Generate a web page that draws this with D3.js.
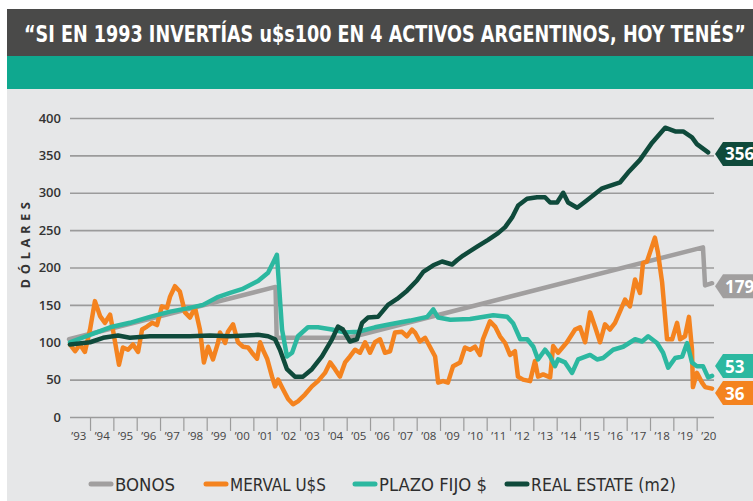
<!DOCTYPE html>
<html>
<head>
<meta charset="utf-8">
<script src="https://cdn.jsdelivr.net/npm/d3@7"></script>
<style>
  html, body { margin: 0; padding: 0; background: #fff; }
  svg { display: block; }
</style>
</head>
<body>
<svg width="753" height="501"></svg>
<script>
// values, [year, dollars]
var bonos = [[1993.1, 104], [2001.95, 174], [2002.0, 106], [2005.1, 106], [2020.27, 227], [2020.36, 176], [2020.66, 179]];

var merval = [[1993.14, 97], [1993.36, 88], [1993.57, 97], [1993.78, 87], [1994.0, 117], [1994.21, 155], [1994.43, 135],
  [1994.64, 126], [1994.86, 137], [1994.98, 117], [1995.24, 70], [1995.41, 93], [1995.63, 90], [1995.84, 97], [1996.06, 87],
  [1996.23, 117], [1996.44, 121], [1996.66, 126], [1996.87, 123], [1997.08, 148], [1997.3, 146], [1997.43, 161], [1997.64, 175],
  [1997.85, 168], [1998.07, 140], [1998.28, 133], [1998.5, 146], [1998.71, 117], [1998.88, 73], [1999.06, 94], [1999.27, 77],
  [1999.49, 100], [1999.57, 113], [1999.79, 99], [1999.91, 114], [2000.13, 124], [2000.34, 100], [2000.56, 94], [2000.77, 93],
  [2000.94, 86], [2001.16, 78], [2001.29, 100], [2001.41, 90], [2001.59, 78], [2001.8, 54], [2001.93, 41], [2002.06, 50],
  [2002.27, 37], [2002.49, 24], [2002.7, 17], [2002.91, 21], [2003.21, 30], [2003.51, 41], [2003.77, 48], [2004.07, 59],
  [2004.29, 73], [2004.5, 64], [2004.71, 54], [2004.93, 73], [2005.14, 81], [2005.36, 90], [2005.57, 86], [2005.79, 100],
  [2006.0, 86], [2006.21, 100], [2006.43, 104], [2006.64, 86], [2006.86, 88], [2007.07, 113], [2007.37, 114], [2007.58, 108],
  [2007.8, 117], [2007.93, 113], [2008.14, 101], [2008.36, 106], [2008.79, 81], [2008.92, 46], [2009.13, 48], [2009.34, 46],
  [2009.56, 68], [2009.86, 73], [2010.07, 93], [2010.29, 90], [2010.5, 94], [2010.71, 83], [2010.84, 104], [2011.14, 128],
  [2011.36, 121], [2011.57, 108], [2011.79, 99], [2012.0, 83], [2012.21, 88], [2012.34, 54], [2012.56, 50], [2012.86, 48],
  [2013.07, 75], [2013.2, 54], [2013.42, 57], [2013.72, 53], [2013.85, 95], [2014.06, 86], [2014.44, 100], [2014.79, 117],
  [2015.0, 120], [2015.22, 100], [2015.43, 140], [2015.64, 121], [2015.86, 100], [2016.07, 124], [2016.28, 117], [2016.5, 126],
  [2016.71, 141], [2016.93, 157], [2017.14, 148], [2017.36, 184], [2017.57, 166], [2017.7, 206], [2017.87, 208], [2018.21, 240],
  [2018.34, 220], [2018.52, 180], [2018.73, 104], [2018.95, 104], [2019.16, 126], [2019.29, 104], [2019.5, 108], [2019.67, 134],
  [2019.8, 90], [2019.84, 40], [2020.01, 59], [2020.23, 46], [2020.36, 40], [2020.66, 38]];

var plazoFijo = [[1993.14, 100], [1994.0, 110], [1994.86, 120], [1995.71, 126], [1996.57, 134], [1997.43, 141], [1998.28, 146],
  [1998.84, 150], [1999.44, 160], [2000.0, 166], [2000.51, 171], [2001.2, 182], [2001.63, 193], [2001.84, 206], [2002.01, 217],
  [2002.23, 117], [2002.44, 81], [2002.66, 86], [2002.91, 108], [2003.34, 120], [2003.77, 120], [2004.37, 117], [2004.93, 113],
  [2005.49, 114], [2006.21, 120], [2006.86, 124], [2007.72, 129], [2008.45, 134], [2008.71, 144], [2008.92, 133], [2009.44, 130],
  [2010.29, 131], [2011.28, 136], [2011.88, 134], [2012.14, 125], [2012.44, 104], [2012.74, 104], [2013.0, 94], [2013.2, 77],
  [2013.5, 90], [2013.72, 81], [2013.93, 68], [2014.06, 77], [2014.36, 73], [2014.66, 59], [2014.92, 77], [2015.43, 83],
  [2015.73, 77], [2015.99, 79], [2016.42, 90], [2016.85, 94], [2017.36, 104], [2017.66, 101], [2017.92, 108], [2018.3, 99],
  [2018.56, 86], [2018.78, 66], [2019.08, 79], [2019.38, 81], [2019.59, 99], [2019.8, 73], [2020.01, 68], [2020.27, 68],
  [2020.49, 53], [2020.66, 55]];

var realEstate = [[1993.14, 97], [1994.0, 100], [1994.56, 106], [1995.2, 109], [1995.71, 106], [1996.57, 108], [1998.28, 108],
  [1999.14, 109], [2000.0, 108], [2001.2, 110], [2001.63, 108], [2001.93, 104], [2002.14, 90], [2002.44, 64], [2002.78, 54],
  [2003.13, 54], [2003.51, 64], [2003.94, 81], [2004.37, 104], [2004.63, 121], [2004.84, 117], [2005.14, 101], [2005.44, 104],
  [2005.66, 126], [2005.91, 133], [2006.34, 134], [2006.77, 150], [2007.16, 158], [2007.59, 169], [2008.02, 183], [2008.28, 194],
  [2008.71, 203], [2009.09, 208], [2009.52, 204], [2009.74, 210], [2009.99, 216], [2010.59, 228], [2011.06, 237], [2011.49, 246],
  [2011.79, 254], [2012.09, 267], [2012.35, 283], [2012.73, 292], [2013.16, 294], [2013.5, 294], [2013.72, 287], [2014.02, 287],
  [2014.28, 300], [2014.49, 287], [2014.88, 280], [2015.3, 290], [2015.95, 306], [2016.72, 314], [2017.06, 327], [2017.57, 344],
  [2018.09, 367], [2018.65, 387], [2019.08, 382], [2019.42, 382], [2019.8, 374], [2020.01, 365], [2020.49, 354]];

var seriesNames = ["BONOS", "MERVAL U$S", "PLAZO FIJO $", "REAL ESTATE (m2)"];
var seriesColors = ["#a19f9f", "#f4831f", "#2cb8a0", "#0f4a3b"];
var finalValues = [179, 36, 53, 356];
var yTicks = [0, 50, 100, 150, 200, 250, 300, 350, 400];
var years = d3.range(1993, 2021);
var yearLabels = years.map(function (yr) { return "\u2019" + String(yr).slice(2); });

var titleText = "\u201CSI EN 1993 INVERT\u00CDAS u$s100 EN 4 ACTIVOS ARGENTINOS, HOY TEN\u00C9S\u201D";
var narrow = "'DejaVu Sans Condensed', 'Liberation Sans Narrow', sans-serif";

var svg = d3.select("svg"),
    width = +svg.attr("width"),
    height = +svg.attr("height");

// squeeze a text horizontally so it fills w pixels
function fitWidth(sel, x0, y0, w) {
    sel.each(function () {
        var len = this.getComputedTextLength();
        d3.select(this).attr("transform", "translate(" + x0 + "," + y0 + ") scale(" + (w / len) + ",1)");
    });
}

// header bands + chart panel
svg.append("rect").attr("x", 0).attr("y", 0).attr("width", width).attr("height", height).attr("fill", "#ffffff");
svg.append("rect").attr("x", 7).attr("y", 9).attr("width", width - 7).attr("height", 47).attr("fill", "#4a4a49");
svg.append("rect").attr("x", 7).attr("y", 56).attr("width", width - 7).attr("height", 33).attr("fill", "#0fa88f");
svg.append("rect").attr("x", 7).attr("y", 89).attr("width", width - 7).attr("height", height - 89).attr("fill", "#e6e7e8");

svg.append("text")
    .attr("fill", "#ffffff")
    .style("font-family", narrow)
    .style("font-weight", "bold")
    .style("font-size", "23px")
    .text(titleText)
    .call(fitWidth, 24, 42, 722);

var x = d3.scaleLinear().domain([1993, 2021]).range([66.7, 720]);
var y = d3.scaleLinear().domain([0, 400]).range([417, 118]);

// horizontal grid + y labels
var yAxis = svg.append("g")
    .attr("transform", "translate(70,0)")
    .call(d3.axisLeft(y).tickValues(yTicks).tickSize(-(714 - 70)).tickPadding(9));
yAxis.select(".domain").remove();
yAxis.selectAll("line").attr("stroke", "#9b9b9b").attr("stroke-width", 1.6);
yAxis.selectAll("text")
    .attr("fill", "#333")
    .style("font-family", "'Open Sans', sans-serif")
    .style("font-weight", "600")
    .style("font-size", "13px");

// year boundary ticks
var xTicks = svg.append("g")
    .attr("transform", "translate(0," + y(0) + ")")
    .call(d3.axisBottom(x).tickValues(d3.range(1994, 2021)).tickSize(14).tickFormat(""));
xTicks.select(".domain").remove();
xTicks.selectAll("line").attr("stroke", "#9b9b9b").attr("stroke-width", 1.2);

// year labels centred in each year
var xLabels = svg.append("g")
    .attr("transform", "translate(0," + (y(0) + 12) + ")")
    .call(d3.axisBottom(x).tickValues(years.map(function (yr) { return yr + 0.5; })).tickSize(0)
        .tickFormat(function (d, i) { return yearLabels[i]; }));
xLabels.select(".domain").remove();
xLabels.selectAll("text")
    .attr("fill", "#444")
    .style("font-family", "'Open Sans', sans-serif")
    .style("font-size", "11.5px");

svg.append("text")
    .attr("transform", "translate(30,243) rotate(-90)")
    .attr("text-anchor", "middle")
    .attr("fill", "#333")
    .style("font-family", "'Open Sans', sans-serif")
    .style("font-weight", "bold")
    .style("font-size", "13px")
    .style("letter-spacing", "4.5px")
    .text("D\u00D3LARES");

// lines
var line = d3.line()
    .x(function (d) { return x(d[0]); })
    .y(function (d) { return y(d[1]); });

var seriesData = [bonos, merval, plazoFijo, realEstate];

svg.append("g").selectAll("path")
    .data(seriesData)
    .enter().append("path")
    .attr("d", line)
    .attr("fill", "none")
    .attr("stroke", function (d, i) { return seriesColors[i]; })
    .attr("stroke-width", 4.5)
    .attr("stroke-linejoin", "round")
    .attr("stroke-linecap", "round");

// end tags, nudged apart so they don't overlap
var tags = finalValues.map(function (v, i) { return { v: v, i: i, cy: y(v) + 3 }; })
    .sort(function (a, b) { return b.cy - a.cy; });
for (var k = 1; k < tags.length; k++) {
    if (tags[k - 1].cy - tags[k].cy < 27) tags[k].cy = tags[k - 1].cy - 27;
}

var tag = svg.append("g").selectAll("g")
    .data(tags)
    .enter().append("g")
    .attr("transform", function (d) { return "translate(715," + d.cy + ")"; });

tag.append("path")
    .attr("d", "M0,0 L8,-12 L45,-12 L45,12 L8,12 Z")
    .attr("fill", function (d) { return seriesColors[d.i]; });

tag.append("text")
    .attr("x", 10)
    .attr("y", 6.5)
    .attr("fill", "#fff")
    .style("font-family", "'Open Sans', sans-serif")
    .style("font-weight", "bold")
    .style("font-size", "17px")
    .text(function (d) { return d.v; });

// legend
var legendX = [89, 204, 353, 505];
var legendW = [60, 96, 108, 145];

var legend = svg.append("g").selectAll("g")
    .data(seriesNames)
    .enter().append("g")
    .attr("transform", function (d, i) { return "translate(" + legendX[i] + ",484)"; });

legend.append("line")
    .attr("x1", 2).attr("x2", 22)
    .attr("y1", 0).attr("y2", 0)
    .attr("stroke", function (d, i) { return seriesColors[i]; })
    .attr("stroke-width", 5)
    .attr("stroke-linecap", "round");

legend.append("text")
    .attr("fill", "#2e2e2e")
    .style("font-family", narrow)
    .style("font-size", "18px")
    .text(function (d) { return d; })
    .each(function (d, i) {
        var len = this.getComputedTextLength();
        d3.select(this).attr("transform", "translate(26,6.5) scale(" + (legendW[i] / len) + ",1)");
    });
</script>
</body>
</html>
